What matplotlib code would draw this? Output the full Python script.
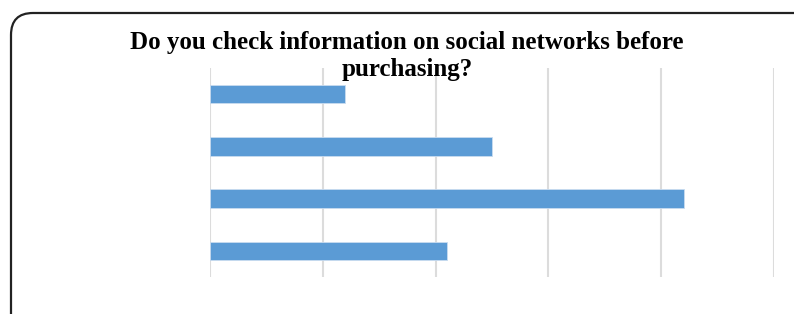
import matplotlib
matplotlib.use("Agg")
import matplotlib.pyplot as plt
from matplotlib.patches import FancyBboxPatch

title = "Do you check information on social networks before\npurchasing?"
categories = ["1", "2", "3", "4"]
values = [12, 25, 42, 21]
xmax = 50
grid_ticks = [0, 10, 20, 30, 40, 50]

fig = plt.figure(figsize=(7.94, 3.14), dpi=100)
fig.patch.set_facecolor("white")

# rounded border (in inches)
box = FancyBboxPatch((0.11, -0.5), 8.2, 3.51,
                     boxstyle="round,pad=0,rounding_size=0.22",
                     transform=fig.dpi_scale_trans,
                     facecolor="none", edgecolor="#222222", linewidth=1.6,
                     zorder=0)
fig.patches.append(box)

ax = fig.add_axes([210/794, 1-277/314, (774-210)/794, (277-68)/314])
ax.set_facecolor("none")
pos = list(range(len(categories)))
ax.barh(pos, values, height=0.35, color="#5B9BD5", edgecolor="#c9dcf0",
        linewidth=0.6, zorder=3)
ax.set_ylim(len(categories)-0.5, -0.5)
ax.set_xlim(0, xmax)
ax.set_xticks(grid_ticks)
ax.grid(axis="x", color="#dcdcdc", linewidth=1.5, zorder=0)
ax.tick_params(length=0, labelbottom=False, labelleft=False)
for s in ax.spines.values():
    s.set_visible(False)

fig.text(407/794, 1-31/314, title, ha="center", va="top",
         fontfamily="Liberation Serif", fontweight="bold", fontsize=18,
         linespacing=1.2, zorder=5)

fig.savefig("out.png", dpi=100)
